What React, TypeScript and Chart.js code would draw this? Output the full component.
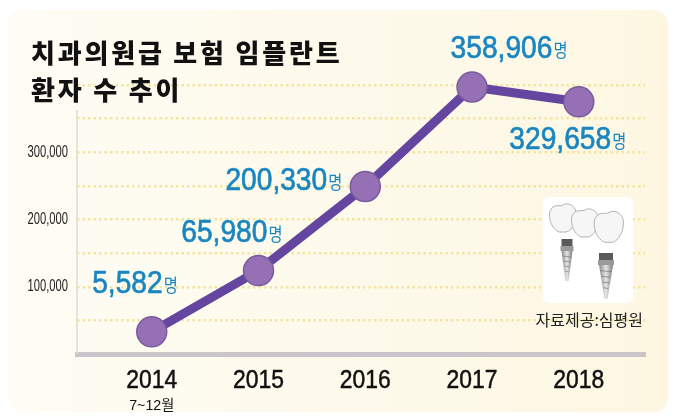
import { useEffect, useRef } from "react"
import { Chart, registerables } from "chart.js"

Chart.register(...registerables)

const years = ["2014", "2015", "2016", "2017", "2018"]
const yearNotes = ["7~12월", "", "", "", ""]
// patient counts printed next to each point
const patients = [5582, 65980, 200330, 358906, 329658]
// heights at which the infographic actually places the points (not to scale with the counts)
const plotted = [33000, 124000, 249000, 397000, 375000]
const yTickLabels = [100000, 200000, 300000]

const title = ["치과의원급 보험 임플란트", "환자 수 추이"]
const source = "자료제공:심평원"

const sans = "'Liberation Sans', 'Noto Sans CJK KR', sans-serif"
const korean = "'Noto Sans CJK KR', sans-serif"

const labelPlacement = [
  { align: "right", dx: 26, dy: -39 },
  { align: "right", dx: 24, dy: -29 },
  { align: "right", dx: -23, dy: 3 },
  { align: "center", dx: 37, dy: -29 },
  { align: "center", dx: -11, dy: 47 },
]

// text squeezed horizontally, the way the print font is condensed
function measure(ctx: CanvasRenderingContext2D, text: string, font: string, sx: number) {
  ctx.save()
  ctx.font = font
  const w = ctx.measureText(text).width * sx
  ctx.restore()
  return w
}

function condensed(
  ctx: CanvasRenderingContext2D,
  text: string,
  x: number,
  y: number,
  font: string,
  sx: number,
  align: "left" | "center" | "right" = "left",
  baseline: CanvasTextBaseline = "alphabetic",
  weight = 0
) {
  const w = measure(ctx, text, font, sx)
  const left = align === "right" ? x - w : align === "center" ? x - w / 2 : x
  ctx.save()
  ctx.font = font
  ctx.textAlign = "left"
  ctx.textBaseline = baseline
  ctx.translate(left, y)
  ctx.scale(sx, 1)
  ctx.fillText(text, 0, 0)
  if (weight > 0) {
    ctx.strokeStyle = ctx.fillStyle
    ctx.lineWidth = weight
    ctx.lineJoin = "round"
    ctx.strokeText(text, 0, 0)
  }
  ctx.restore()
  return w
}

function drawImplants(ctx: CanvasRenderingContext2D, x: number, y: number, w: number, h: number) {
  ctx.save()
  ctx.fillStyle = "#ffffff"
  ctx.beginPath()
  ctx.roundRect(x, y, w, h, 6)
  ctx.fill()

  const crown = (cx: number, cy: number, s: number) => {
    ctx.beginPath()
    ctx.moveTo(cx - 13 * s, cy - 8 * s)
    ctx.bezierCurveTo(cx - 10 * s, cy - 16 * s, cx - 2 * s, cy - 12 * s, cx, cy - 14 * s)
    ctx.bezierCurveTo(cx + 4 * s, cy - 17 * s, cx + 12 * s, cy - 14 * s, cx + 13 * s, cy - 7 * s)
    ctx.bezierCurveTo(cx + 14 * s, cy + 2 * s, cx + 9 * s, cy + 12 * s, cx + 3 * s, cy + 13 * s)
    ctx.lineTo(cx - 4 * s, cy + 13 * s)
    ctx.bezierCurveTo(cx - 11 * s, cy + 10 * s, cx - 15 * s, cy, cx - 13 * s, cy - 8 * s)
    ctx.closePath()
    ctx.fillStyle = "#f6f6f6"
    ctx.fill()
    ctx.strokeStyle = "#b4b4b4"
    ctx.lineWidth = 1
    ctx.stroke()
  }
  crown(x + 20, y + 22, 1)
  crown(x + 42, y + 27, 1)
  crown(x + 66, y + 31, 1.1)

  const implant = (cx: number, top: number, aw: number, len: number) => {
    ctx.fillStyle = "#5a5a5a"
    ctx.fillRect(cx - aw / 2, top, aw, 7)
    ctx.fillStyle = "#9a9a9a"
    ctx.fillRect(cx - aw / 2 - 1, top + 7, aw + 2, 5)
    const g = ctx.createLinearGradient(cx - aw / 2, 0, cx + aw / 2, 0)
    g.addColorStop(0, "#8a8a8a")
    g.addColorStop(0.5, "#e6e6e6")
    g.addColorStop(1, "#7a7a7a")
    ctx.fillStyle = g
    ctx.beginPath()
    ctx.moveTo(cx - aw / 2, top + 12)
    ctx.lineTo(cx + aw / 2, top + 12)
    ctx.lineTo(cx + 1.5, top + 12 + len)
    ctx.lineTo(cx - 1.5, top + 12 + len)
    ctx.closePath()
    ctx.fill()
    ctx.strokeStyle = "#777"
    ctx.lineWidth = 0.7
    for (let i = 1; i < 5; i++) {
      const yy = top + 12 + (len * i) / 6
      const half = (aw / 2) * (1 - i / 6)
      ctx.beginPath()
      ctx.moveTo(cx - half, yy)
      ctx.lineTo(cx + half, yy + 1)
      ctx.stroke()
    }
  }
  implant(x + 24, y + 42, 11, 30)
  implant(x + 63, y + 56, 14, 34)
  ctx.restore()
}

const decor = {
  id: "decor",
  beforeDraw(chart: Chart) {
    const { ctx, width, height } = chart
    ctx.save()
    ctx.fillStyle = "#ffffff"
    ctx.fillRect(0, 0, width, height)
    const g = ctx.createLinearGradient(8, 0, 668, 0)
    g.addColorStop(0, "#fefcf4")
    g.addColorStop(1, "#fdf7e2")
    ctx.fillStyle = g
    ctx.beginPath()
    ctx.roundRect(8, 10, 660, 402, 14)
    ctx.fill()
    ctx.restore()
  },
  beforeDatasetsDraw(chart: Chart) {
    const { ctx, chartArea } = chart
    ctx.save()
    ctx.strokeStyle = "#dedbd2"
    ctx.lineWidth = 1.5
    ctx.beginPath()
    ctx.moveTo(chartArea.left, 110)
    ctx.lineTo(chartArea.left, chartArea.bottom)
    ctx.stroke()
    ctx.restore()
    drawImplants(ctx, 543, 197, 90, 106)
  },
  afterDatasetsDraw(chart: Chart) {
    const { ctx } = chart
    const meta = chart.getDatasetMeta(0)
    const numFont = `32px ${sans}`
    const unitFont = `18px ${korean}`
    ctx.save()
    ctx.fillStyle = "#1a86c0"
    meta.data.forEach((pt, i) => {
      const place = labelPlacement[i]
      const num = patients[i].toLocaleString("en-US")
      const nw = measure(ctx, num, numFont, 0.88)
      const uw = measure(ctx, "명", unitFont, 0.85)
      const total = nw + 1 + uw
      const anchor = pt.x + place.dx
      const left = place.align === "right" ? anchor - total : anchor - total / 2
      const base = pt.y + place.dy
      condensed(ctx, num, left, base, numFont, 0.88, "left", "alphabetic", 0.7)
      condensed(ctx, "명", left + nw + 1, base - 1, unitFont, 0.85)
    })
    ctx.restore()
  },
  afterDraw(chart: Chart) {
    const { ctx, chartArea } = chart
    const xScale = chart.scales.x
    const yScale = chart.scales.y
    ctx.save()
    ctx.fillStyle = "#111"
    ctx.font = `900 26px ${korean}`
    ctx.letterSpacing = "2.8px"
    ctx.textAlign = "left"
    ctx.textBaseline = "middle"
    ctx.fillText(title[0], 31, 53)
    ctx.fillText(title[1], 31, 90)
    ctx.letterSpacing = "0px"

    // y tick labels
    ctx.fillStyle = "#222"
    yTickLabels.forEach((v) => {
      condensed(ctx, v.toLocaleString("en-US"), chartArea.left - 9, yScale.getPixelForValue(v), `16px ${sans}`, 0.7, "right", "middle")
    })

    // x tick labels
    ctx.fillStyle = "#111"
    years.forEach((yr, i) => {
      const x = xScale.getPixelForValue(i)
      condensed(ctx, yr, x, chartArea.bottom + 34, `26px ${sans}`, 0.88, "center", "alphabetic", 0.5)
      if (yearNotes[i]) condensed(ctx, yearNotes[i], x, chartArea.bottom + 56, `15px ${sans}`, 0.95, "center")
    })

    ctx.font = `16px ${korean}`
    ctx.textAlign = "right"
    ctx.textBaseline = "middle"
    ctx.fillStyle = "#222"
    ctx.fillText(source, 643, 320)
    ctx.restore()
  },
}

export default function App() {
  const canvasRef = useRef<HTMLCanvasElement>(null)

  useEffect(() => {
    document.body.style.margin = "0"
    const ctx = canvasRef.current?.getContext("2d")
    if (!ctx) return

    const gridColor = "#f4e4a2"

    const chart = new Chart(ctx, {
      type: "line",
      data: {
        datasets: [
          {
            data: plotted.map((v, i) => ({ x: i, y: v })),
            borderColor: "#6446a0",
            borderWidth: 9,
            pointRadius: 15,
            pointBackgroundColor: "#9670b4",
            pointBorderColor: "#7a5a9e",
            pointBorderWidth: 1.5,
            tension: 0,
            clip: false,
          },
        ],
      },
      options: {
        responsive: false,
        animation: false,
        events: [],
        layout: { padding: { top: 85, right: 35, left: 0, bottom: 0 } },
        plugins: {
          legend: { display: false },
          tooltip: { enabled: false },
        },
        scales: {
          x: {
            type: "linear",
            min: -0.7,
            max: 4.62,
            afterBuildTicks: (axis) => {
              axis.ticks = years.map((_, i) => ({ value: i }))
            },
            afterFit: (axis) => {
              axis.height = 64
            },
            grid: { display: false, drawTicks: false },
            border: { display: true, color: "#c9c5cb", width: 5 },
            ticks: { display: false },
          },
          y: {
            min: 0,
            max: 400000,
            afterFit: (axis) => {
              axis.width = 77
            },
            grid: {
              drawTicks: false,
              lineWidth: 2.5,
              color: (c) => (c.tick && c.tick.value === 0 ? "rgba(0,0,0,0)" : gridColor),
            },
            border: { display: false, dash: [2.5, 3] },
            ticks: { display: false, stepSize: 50000 },
          },
        },
      },
      plugins: [decor],
    })

    return () => {
      chart.destroy()
    }
  }, [])

  return (
    <div style={{ width: 680, height: 418 }}>
      <canvas ref={canvasRef} width={680} height={418}></canvas>
    </div>
  )
}
